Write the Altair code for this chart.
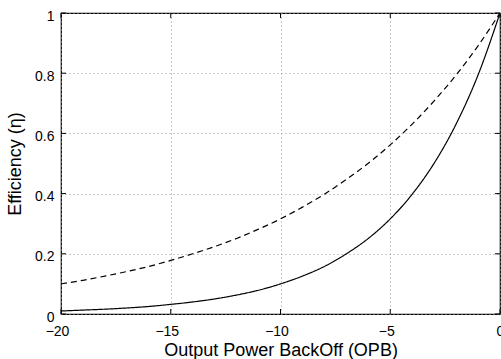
import altair as alt
import pandas as pd

# Output power back-off (dB)
opb = [-20, -19, -18, -17, -16, -15, -14, -13, -12, -11, -10,
       -9, -8, -7, -6, -5, -4, -3, -2, -1, 0]
# dashed curve
eff_dashed = [0.100, 0.112, 0.126, 0.141, 0.158, 0.178, 0.200, 0.224, 0.251, 0.282, 0.316,
              0.355, 0.398, 0.447, 0.501, 0.562, 0.631, 0.708, 0.794, 0.891, 1.000]
# solid curve
eff_solid = [0.010, 0.013, 0.016, 0.020, 0.025, 0.032, 0.040, 0.050, 0.063, 0.079, 0.100,
             0.126, 0.158, 0.200, 0.251, 0.316, 0.398, 0.501, 0.631, 0.794, 1.000]

x_ticks = [-20, -15, -10, -5, 0]
y_ticks = [0, 0.2, 0.4, 0.6, 0.8, 1]

W, H = 439, 301
FONT = "Liberation Sans"

df = pd.DataFrame({
    "opb": opb * 2,
    "eff": eff_dashed + eff_solid,
    "curve": ["dashed"] * len(opb) + ["solid"] * len(opb),
})

xs = alt.Scale(domain=[-20, 0], nice=False)
ys = alt.Scale(domain=[0, 1], nice=False)

x_axis = alt.Axis(
    values=x_ticks, title="Output Power BackOff (OPB)", grid=True,
    gridDash=[1, 3], gridColor="#999999", gridWidth=1,
    ticks=False, domain=False, labelPadding=10, labelFontSize=14,
    labelOffset={"condition": {"test": "datum.value < 0", "value": -4}, "value": 0},
    titleFontSize=18, titleFontWeight="normal", titlePadding=3,
    labelFont=FONT, titleFont=FONT, labelColor="black", titleColor="black",
    labelFlush=False,
)
y_axis = alt.Axis(
    values=y_ticks, title="Efficiency (η)", grid=True, format="~g",
    gridDash=[1, 3], gridColor="#999999", gridWidth=1,
    ticks=False, domain=False, labelPadding=7, labelFontSize=14, labelOffset=3,
    titleFontSize=18, titleFontWeight="normal", titlePadding=10,
    labelFont=FONT, titleFont=FONT, labelColor="black", titleColor="black",
    labelFlush=False,
)

lines = alt.Chart(df).mark_line(color="black", strokeWidth=1.2, interpolate="monotone", clip=True).encode(
    x=alt.X("opb:Q", scale=xs, axis=x_axis),
    y=alt.Y("eff:Q", scale=ys, axis=y_axis),
    strokeDash=alt.StrokeDash(
        "curve:N",
        scale=alt.Scale(domain=["dashed", "solid"], range=[[6, 4], [1, 0]]),
        legend=None,
    ),
    detail="curve:N",
)

xt = pd.DataFrame({"v": x_ticks})
yt = pd.DataFrame({"v": y_ticks})
TL = 5
xtick_bot = alt.Chart(xt).mark_rule(color="black", strokeWidth=1).encode(
    x=alt.X("v:Q", scale=xs), y=alt.value(H), y2=alt.value(H - TL))
xtick_top = alt.Chart(xt).mark_rule(color="black", strokeWidth=1).encode(
    x=alt.X("v:Q", scale=xs), y=alt.value(0), y2=alt.value(TL))
ytick_l = alt.Chart(yt).mark_rule(color="black", strokeWidth=1).encode(
    y=alt.Y("v:Q", scale=ys), x=alt.value(0), x2=alt.value(TL))
ytick_r = alt.Chart(yt).mark_rule(color="black", strokeWidth=1).encode(
    y=alt.Y("v:Q", scale=ys), x=alt.value(W), x2=alt.value(W - TL))

chart = alt.layer(lines, xtick_bot, xtick_top, ytick_l, ytick_r).properties(
    width=W, height=H,
    autosize=alt.AutoSizeParams(type="none"),
    padding={"left": 61, "top": 13, "right": 1, "bottom": 45},
    background="white",
).configure_view(stroke="black", strokeWidth=1.2)

chart.save("out.html", embed_options={"renderer": "svg", "actions": False})
